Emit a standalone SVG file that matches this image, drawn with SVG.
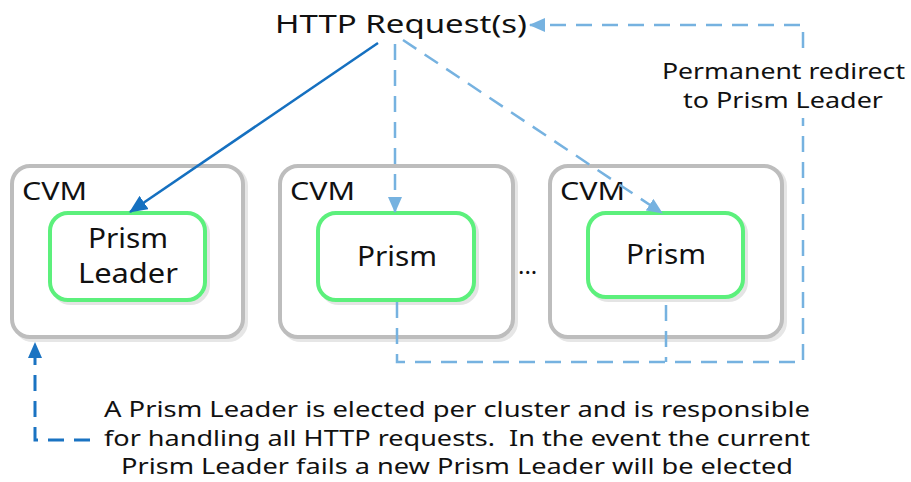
<svg xmlns="http://www.w3.org/2000/svg" width="911" height="482" viewBox="0 0 911 482">
<defs>
<style>
.t{font-family:"Noto Sans","Liberation Sans",sans-serif;fill:#111;}
.cvm{fill:#fff;stroke:#bdbdbd;stroke-width:4;}
.cvmsh{fill:none;stroke:#e6e6e6;stroke-width:4;}
.pr{fill:#fff;stroke:#5cf07c;stroke-width:4;}
.prsh{fill:none;stroke:#e4e4e4;stroke-width:4;}
.solid{fill:none;stroke:#1570c0;stroke-width:2.5;}
.dash{fill:none;stroke:#76b2e0;stroke-width:2.5;stroke-dasharray:16 10;}
.dashd{fill:none;stroke:#1a73c2;stroke-width:3;stroke-dasharray:16 10;}
</style>
<marker id="aS" markerUnits="userSpaceOnUse" markerWidth="18" markerHeight="16" refX="17" refY="8" orient="auto"><path d="M0,0 L18,8 L0,16 Z" fill="#1570c0"/></marker>
<marker id="aL" markerUnits="userSpaceOnUse" markerWidth="16" markerHeight="14" refX="15" refY="7" orient="auto"><path d="M0,0 L16,7 L0,14 Z" fill="#76b2e0"/></marker>
<marker id="aD" markerUnits="userSpaceOnUse" markerWidth="16" markerHeight="14" refX="15" refY="7" orient="auto"><path d="M0,0 L16,7 L0,14 Z" fill="#1a73c2"/></marker>
</defs>
<rect width="911" height="482" fill="#fff"/>

<g id="cvm1">
<rect class="cvmsh" x="15" y="168" width="231" height="172" rx="18"/>
<rect class="cvm" x="12" y="166" width="231" height="171" rx="18"/>
<text class="t" x="22" y="200" font-size="25" textLength="65" lengthAdjust="spacingAndGlyphs">CVM</text>
</g>
<g id="cvm2">
<rect class="cvmsh" x="283" y="168" width="233" height="172" rx="18"/>
<rect class="cvm" x="280" y="166" width="233" height="171" rx="18"/>
<text class="t" x="290" y="200" font-size="25" textLength="65" lengthAdjust="spacingAndGlyphs">CVM</text>
</g>
<g id="cvm3">
<rect class="cvmsh" x="553" y="168" width="232" height="172" rx="18"/>
<rect class="cvm" x="550" y="166" width="232" height="171" rx="18"/>
<text class="t" x="560" y="200" font-size="25" textLength="65" lengthAdjust="spacingAndGlyphs">CVM</text>
</g>

<g id="leader">
<rect class="prsh" x="53" y="216" width="155" height="87" rx="18"/>
<rect class="pr" x="50" y="213" width="155" height="87" rx="18"/>
<text class="t" x="88" y="248" font-size="27" textLength="80" lengthAdjust="spacingAndGlyphs">Prism</text>
<text class="t" x="78" y="283" font-size="27" textLength="100" lengthAdjust="spacingAndGlyphs">Leader</text>
</g>
<g id="prism2">
<rect class="prsh" x="321" y="216" width="156" height="87" rx="18"/>
<rect class="pr" x="318" y="213" width="156" height="87" rx="18"/>
<text class="t" x="357" y="266" font-size="27" textLength="80" lengthAdjust="spacingAndGlyphs">Prism</text>
</g>
<g id="prism3">
<rect class="prsh" x="591" y="216" width="155" height="84" rx="18"/>
<rect class="pr" x="588" y="213" width="155" height="84" rx="18"/>
<text class="t" x="626" y="264" font-size="27" textLength="80" lengthAdjust="spacingAndGlyphs">Prism</text>
</g>

<g id="ellipsis"><text class="t" x="518" y="274" font-size="24">...</text></g>

<g id="connectors">
<path class="solid" d="M378,43 L130,212" marker-end="url(#aS)"/>
<path class="dash" d="M395,44 L395,212" marker-end="url(#aL)"/>
<path class="dash" d="M403,40 L662,213" marker-end="url(#aL)"/>
<path class="dash" d="M397,302 V362 H803 V25 H530" marker-end="url(#aL)"/>
<path class="dash" d="M666,305 V362"/>
<path class="dashd" d="M90,440 H35 V343" marker-end="url(#aD)"/>
</g>

<g id="http">
<text class="t" x="275" y="33" font-size="26" textLength="252" lengthAdjust="spacingAndGlyphs">HTTP Request(s)</text>
</g>

<g id="redirect-label">
<rect x="656" y="52" width="254" height="66" fill="#fff"/>
<text class="t" x="662" y="79" font-size="22" textLength="243" lengthAdjust="spacingAndGlyphs">Permanent redirect</text>
<text class="t" x="683" y="108" font-size="22" textLength="200" lengthAdjust="spacingAndGlyphs">to Prism Leader</text>
</g>

<g id="note">
<text class="t" x="104" y="417" font-size="22" textLength="706" lengthAdjust="spacingAndGlyphs">A Prism Leader is elected per cluster and is responsible</text>
<text class="t" x="104" y="446" font-size="22" textLength="706" lengthAdjust="spacingAndGlyphs" style="white-space:pre">for handling all HTTP requests.  In the event the current</text>
<text class="t" x="121" y="474" font-size="22" textLength="672" lengthAdjust="spacingAndGlyphs">Prism Leader fails a new Prism Leader will be elected</text>
</g>
</svg>
